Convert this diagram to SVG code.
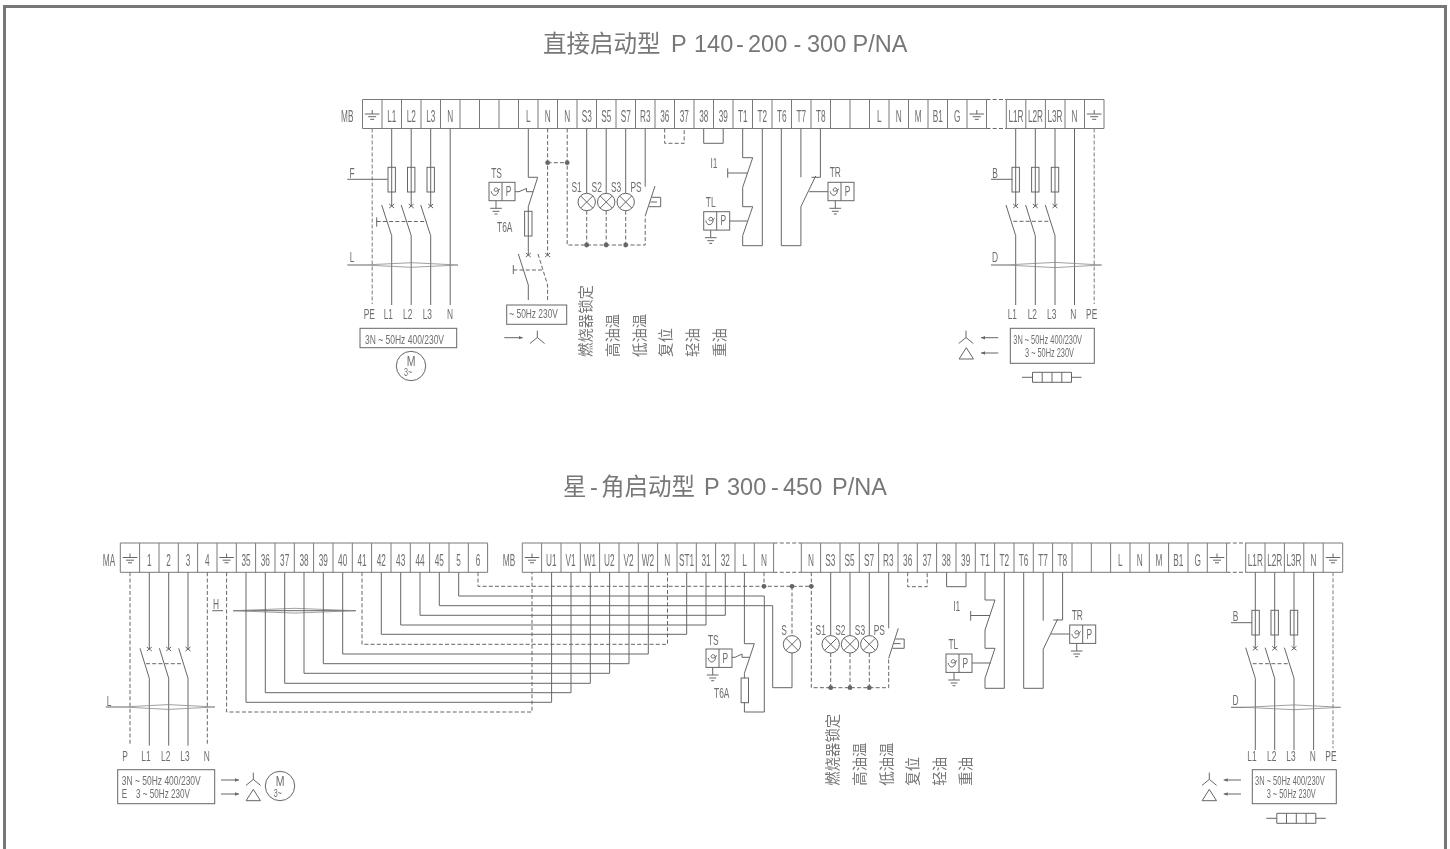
<svg xmlns="http://www.w3.org/2000/svg" width="1450" height="849" viewBox="0 0 1450 849" style="will-change:transform">
<style>
text{font-family:"Liberation Sans","Noto Sans CJK SC",sans-serif;fill:#6e6e6e}
.title{font-size:23.5px;fill:#777}
.t16{font-size:16.5px;text-anchor:middle}
.t13{font-size:14px;text-anchor:middle}
.t12{font-size:12.5px}
.v{font-family:"Noto Sans CJK SC",sans-serif;font-size:14.4px;fill:#777}
.ln{fill:none;stroke:#666;stroke-width:1}
.lt{fill:none;stroke:#7a7a7a;stroke-width:1}
.d{fill:none;stroke:#666;stroke-width:1;stroke-dasharray:4 2.2}
.dl{fill:none;stroke:#888;stroke-width:1.1;stroke-dasharray:4 2}
.lens{fill:none;stroke:#888;stroke-width:.8}
.dot{fill:#666}
</style>
<defs>
<marker id="ah" markerUnits="userSpaceOnUse" markerWidth="5" markerHeight="5" refX="4" refY="2.5" orient="auto"><path d="M0 .7L4 2.5L0 4.3z" fill="#666"/></marker>
<g id="gs"><path class="ln" d="M0 10.5V14.5M-7.3 14.5H7.3M-4 17.2H4M-2 19.8H2"/></g>
<g id="gd"><path class="ln" d="M0 0V7.6M-5.8 7.6H5.8M-3.4 10.6H3.4M-1.5 13.3H1.5"/></g>
<rect id="fuse" class="ln" x="-3.7" y="0" width="7.4" height="24.7"/>
<g id="lamp"><circle class="ln" r="8.7" fill="none"/><path class="ln" d="M-6.1-6.1L6.1 6.1M-6.1 6.1L6.1-6.1"/></g>
<path id="xm" class="ln" d="M-2.5-2L2.5 2M-2.5 2L2.5-2"/>
<circle id="dot" class="dot" r="2.4"/>
<g id="sens"><rect class="ln" width="26" height="18.4"/><path class="ln" d="M13 0V18.4M2.2 9C3 13.5 7 14.5 9 10.5C10.5 7 7.5 4 5.5 6.5C4 9 7 10.5 11 6.5"/></g>
<path id="star" class="ln" d="M0 0V-6.8M0 0L-7.3 6M0 0L7.3 6"/>
<path id="tri" class="ln" d="M0 0L-7.2 11.3H7.2z"/>
<g id="res"><path class="ln" d="M-19.5-5H19.5V5H-19.5zM-9.8-5V5M0-5V5M9.8-5V5M-30 0H-19.5M19.5 0H29.5"/></g>
</defs>
<rect x="4.5" y="6.5" width="1441" height="860" fill="#fff" stroke="#777" stroke-width="3"/>
<g id="titles">
<text class="title" x="543" y="52.3">直接启动型<tspan x="671">P</tspan><tspan x="694">140</tspan><tspan x="736">-</tspan><tspan x="748">200</tspan><tspan x="793.5">-</tspan><tspan x="807">300</tspan><tspan x="852.5">P/NA</tspan></text>
<text class="title" x="563" y="495">星<tspan x="590">-</tspan><tspan x="601">角启动型</tspan><tspan x="704">P</tspan><tspan x="727">300</tspan><tspan x="771">-</tspan><tspan x="783">450</tspan><tspan x="832">P/NA</tspan></text>
</g>

<g id="strip-top-MB">
<path class="lt" d="M362.5 99.5H986.5V128.5H362.5zM1006.3 99.5H1104V128.5H1006.3z"/>
<path class="lt" d="M382 99.5V128.5M401.5 99.5V128.5M421 99.5V128.5M440.5 99.5V128.5M460 99.5V128.5M479.5 99.5V128.5M499 99.5V128.5M518.5 99.5V128.5M538 99.5V128.5M557.5 99.5V128.5M577 99.5V128.5M596.5 99.5V128.5M616 99.5V128.5M635.5 99.5V128.5M655 99.5V128.5M674.5 99.5V128.5M694 99.5V128.5M713.5 99.5V128.5M733 99.5V128.5M752.5 99.5V128.5M772 99.5V128.5M791.5 99.5V128.5M811 99.5V128.5M830.5 99.5V128.5M850 99.5V128.5M869.5 99.5V128.5M889 99.5V128.5M908.5 99.5V128.5M928 99.5V128.5M947.5 99.5V128.5M967 99.5V128.5M1025.8 99.5V128.5M1045.4 99.5V128.5M1065 99.5V128.5M1084.5 99.5V128.5"/>
<path class="d" d="M986.5 99.5H1006.3M986.5 128.5H1006.3"/>
<use href="#gs" x="372.2" y="99.5"/><use href="#gs" x="976.8" y="99.5"/><use href="#gs" x="1094.2" y="99.5"/>
<g transform="translate(0 121.7) scale(.5 1)">
<text class="t16" x="694.6">MB</text><text class="t16" x="783.5">L1</text><text class="t16" x="822.5">L2</text><text class="t16" x="861.5">L3</text><text class="t16" x="900.5">N</text><text class="t16" x="1056.5">L</text><text class="t16" x="1095.5">N</text><text class="t16" x="1134.5">N</text><text class="t16" x="1173.5">S3</text><text class="t16" x="1212.5">S5</text><text class="t16" x="1251.5">S7</text><text class="t16" x="1290.5">R3</text><text class="t16" x="1329.5">36</text><text class="t16" x="1368.5">37</text><text class="t16" x="1407.5">38</text><text class="t16" x="1446.5">39</text><text class="t16" x="1485.5">T1</text><text class="t16" x="1524.5">T2</text><text class="t16" x="1563.5">T6</text><text class="t16" x="1602.5">T7</text><text class="t16" x="1641.5">T8</text><text class="t16" x="1758.5">L</text><text class="t16" x="1797.5">N</text><text class="t16" x="1836.5">M</text><text class="t16" x="1875.5">B1</text><text class="t16" x="1914.5">G</text><text class="t16" x="2032">L1R</text><text class="t16" x="2071">L2R</text><text class="t16" x="2110">L3R</text><text class="t16" x="2149">N</text>
</g>
</g>

<g id="strip-MA">
<path class="lt" d="M120.3 543H487.6V572.3H120.3z"/>
<path class="lt" d="M139.6 543V572.3M159 543V572.3M178.3 543V572.3M197.6 543V572.3M217 543V572.3M236.3 543V572.3M255.6 543V572.3M275 543V572.3M294.3 543V572.3M313.6 543V572.3M333 543V572.3M352.3 543V572.3M371.6 543V572.3M391 543V572.3M410.3 543V572.3M429.6 543V572.3M449 543V572.3M468.3 543V572.3"/>
<use href="#gs" x="130" y="543"/><use href="#gs" x="226.6" y="543"/>
<g transform="translate(0 565.6) scale(.5 1)">
<text class="t16" x="218">MA</text><text class="t16" x="298.6">1</text><text class="t16" x="337.3">2</text><text class="t16" x="376">3</text><text class="t16" x="414.6">4</text><text class="t16" x="492">35</text><text class="t16" x="530.6">36</text><text class="t16" x="569.3">37</text><text class="t16" x="608">38</text><text class="t16" x="646.6">39</text><text class="t16" x="685.3">40</text><text class="t16" x="724">41</text><text class="t16" x="762.6">42</text><text class="t16" x="801.3">43</text><text class="t16" x="840">44</text><text class="t16" x="878.6">45</text><text class="t16" x="917.3">5</text><text class="t16" x="956">6</text>
</g>
</g>

<g id="strip-low-MB">
<path class="lt" d="M522.3 543H773.6V572.3H522.3zM801.3 543H1226.6V572.3H801.3zM1245.7 543H1342.7V572.3H1245.7z"/>
<path class="lt" d="M541.6 543V572.3M561 543V572.3M580.3 543V572.3M599.6 543V572.3M619 543V572.3M638.3 543V572.3M657.6 543V572.3M677 543V572.3M696.3 543V572.3M715.6 543V572.3M735 543V572.3M754.3 543V572.3M820.6 543V572.3M840 543V572.3M859.3 543V572.3M878.6 543V572.3M898 543V572.3M917.3 543V572.3M936.6 543V572.3M956 543V572.3M975.3 543V572.3M994.6 543V572.3M1014 543V572.3M1033.3 543V572.3M1052.6 543V572.3M1072 543V572.3M1091.3 543V572.3M1110.6 543V572.3M1130 543V572.3M1149.3 543V572.3M1168.6 543V572.3M1188 543V572.3M1207.3 543V572.3M1265 543V572.3M1284.4 543V572.3M1303.8 543V572.3M1323.2 543V572.3"/>
<path class="d" d="M773.6 543H801.3M773.6 572.3H801.3M1226.6 543H1245.7M1226.6 572.3H1245.7"/>
<use href="#gs" x="532" y="543"/><use href="#gs" x="1217" y="543"/><use href="#gs" x="1333" y="543"/>
<g transform="translate(0 565.6) scale(.5 1)">
<text class="t16" x="1018">MB</text><text class="t16" x="1102.6">U1</text><text class="t16" x="1141.3">V1</text><text class="t16" x="1180">W1</text><text class="t16" x="1218.6">U2</text><text class="t16" x="1257.3">V2</text><text class="t16" x="1296">W2</text><text class="t16" x="1334.6">N</text><text class="t16" x="1373.3">ST1</text><text class="t16" x="1412">31</text><text class="t16" x="1450.6">32</text><text class="t16" x="1489.3">L</text><text class="t16" x="1528">N</text><text class="t16" x="1622">N</text><text class="t16" x="1660.6">S3</text><text class="t16" x="1699.3">S5</text><text class="t16" x="1738">S7</text><text class="t16" x="1776.6">R3</text><text class="t16" x="1815.3">36</text><text class="t16" x="1854">37</text><text class="t16" x="1892.6">38</text><text class="t16" x="1931.3">39</text><text class="t16" x="1970">T1</text><text class="t16" x="2008.6">T2</text><text class="t16" x="2047.3">T6</text><text class="t16" x="2086">T7</text><text class="t16" x="2124.6">T8</text><text class="t16" x="2240.6">L</text><text class="t16" x="2279.3">N</text><text class="t16" x="2318">M</text><text class="t16" x="2356.6">B1</text><text class="t16" x="2395.3">G</text><text class="t16" x="2510.6">L1R</text><text class="t16" x="2549.4">L2R</text><text class="t16" x="2588">L3R</text><text class="t16" x="2627">N</text>
</g>
</g>

<g id="connectors">
<path class="dl" d="M372.2 128.5V304"/>
<path class="ln" d="M391.7 128.5V206M381.7 205L391.7 235.7V305M411.2 128.5V206M401.2 205L411.2 235.7V305M430.7 128.5V206M420.7 205L430.7 235.7V305M450.2 128.5V305M347.3 179.3H387.7M347.3 265H364M376.7 217.3V226.7"/>
<path class="d" d="M376.7 221.5H426.7"/>
<path class="lens" d="M364 265L411.5 262.7L458 265L411.5 267.3z"/>
<path class="ln" d="M528.3 128.5V177.3H537.7L528.3 206.7V255M518.3 254L528.3 285V300M513.3 265V274"/>
<path class="d" d="M547.6 128.5V255M538 254L547.6 285V300M513.3 270H543.5M547.6 162.7H567.2M567.2 128.5V245H645.2V216"/>
<path class="ln" d="M515 191.7H519L526.5 188.4V191.7H533"/>
<path class="ln" d="M586.7 128.5V193.3M606.2 128.5V193.3M625.7 128.5V193.3M645.2 128.5V186.7M655 186L645.2 216M652 197.3H660.7V206.7H649M650.5 202H657"/>
<path class="d" d="M586.7 210.7V245M606.2 210.7V245M625.7 210.7V245M664.7 128.5V143.3H684.2V128.5"/>
<path class="ln" d="M703.7 128.5V143.3H723.2V128.5"/>
<path class="ln" d="M742.7 128.5V157.7H752.7L742.7 187.3V206.7H752.7L742.7 235.7V245.7H762.3V128.5M727.7 168.3V177.7M727.7 173H747.7M729.7 221H747.5"/>
<path class="ln" d="M781.3 128.5V245.7H800.9V206.7L815.7 176M800.9 128.5V177.3M820.4 128.5V177.3H811.5M828 191.7H809.3"/>
<path class="ln" d="M1015.7 128.5V206M1006 205L1015.7 235.7V305M1035.3 128.5V206M1025.6 205L1035.3 235.7V305M1055 128.5V206M1045.3 205L1055 235.7V305M1074.5 128.5V305M991 179.3H1012.3M991 265H1005"/>
<path class="d" d="M1013.3 221.3H1050.7"/>
<path class="dl" d="M1094.2 128.5V304"/>
<path class="lens" d="M1005 265L1055 262.4L1101.7 265L1055 267.6z"/>
<path class="ln" d="M504.3 337.7H522.7" marker-end="url(#ah)"/>
<path class="ln" d="M998.3 337.7H981" marker-end="url(#ah)"/>
<path class="ln" d="M998.3 353H981" marker-end="url(#ah)"/>
<path class="d" d="M130 572.3V745.7M207.3 572.3V745.7"/>
<path class="ln" d="M149.3 572.3V649M140 648.3L149.3 678.3V745.7M168.7 572.3V649M159.4 648.3L168.7 678.3V745.7M188 572.3V649M178.7 648.3L188 678.3V745.7M105.7 707H123"/>
<path class="d" d="M146 663.7H183.3"/>
<path class="lens" d="M123 707L168.3 704.6L215 707L168.3 709.4z"/>
<path class="ln" d="M212.3 610.7H223M233.3 610.7H356"/>
<path class="lens" d="M233.3 610.7L295 608.3L355 610.7L295 613.1z"/>
<path class="ln" d="M221 780H239" marker-end="url(#ah)"/>
<path class="ln" d="M221 794H239" marker-end="url(#ah)"/>
<path class="d" d="M226.6 572.3V712H532V572.3"/>
<path class="ln" d="M246 572.3V702.3H551.6V572.3M265.3 572.3V692.7H571V572.3M284.7 572.3V683.3H590.3V572.3M304 572.3V673.3H609.6V572.3M323.3 572.3V663.7H629V572.3M342.7 572.3V654H648.3V572.3"/>
<path class="d" d="M362 572.3V644.3H667.5V572.3"/>
<path class="ln" d="M381.3 572.3V634.3H686.7V572.3M400.7 572.3V625H706V572.3M420 572.3V615.3H725.3V572.3"/>
<path class="ln" d="M439.3 572.3V605.7H772.7V687.7H792V653M458.7 572.3V596H764.3V712H744.4V702.3"/>
<path class="d" d="M478 572.3V586.3H811.3M764 572.3V586.3M792 586.3V635.6M811.3 572.3V687.7H888.7V658.3"/>
<path class="ln" d="M744.4 572.3V643.7H754.3L744.4 673.3V678.3M731.7 657.3H735L742 654V657.3H749.7"/>
<path class="ln" d="M830.7 572.3V635.6M850 572.3V635.6M869.3 572.3V635.6M888.7 572.3V628.3M898.3 628.3L888.7 658.3M895.4 639H904.2V648.3H892.4M894 643.6H900.5"/>
<path class="d" d="M830.7 653V687.7M850 653V687.7M869.3 653V687.7M907.7 572.3V586.7H927.2V572.3"/>
<path class="ln" d="M946.6 572.3V586.7H966V572.3"/>
<path class="ln" d="M985 572.3V600H995L985 630V648.3H995L985 678.3V688.3H1004.3V572.3M970.7 611V620.7M970.7 615.5H990M972 663H990.7"/>
<path class="ln" d="M1023.7 572.3V688.3H1043.2V649.3L1057.7 619M1043.2 572.3V620.7M1062.6 572.3V620H1053.3M1069.7 634H1051"/>
<path class="ln" d="M1255.3 572.3V648.3M1245.7 647.7L1255.3 678.3V750M1274.7 572.3V648.3M1265.1 647.7L1274.7 678.3V750M1294 572.3V648.3M1284.4 647.7L1294 678.3V750M1313.6 572.3V750M1231 622.7H1252M1231 707.3H1245"/>
<path class="d" d="M1252.7 663.7H1290"/>
<path class="dl" d="M1333 572.3V748.3"/>
<path class="lens" d="M1245 707.3L1294 704.9L1340.7 707.3L1294 709.7z"/>
<path class="ln" d="M1241 780H1223.7" marker-end="url(#ah)"/>
<path class="ln" d="M1241 794H1223.7" marker-end="url(#ah)"/>
</g>

<g id="top-fuses"><use href="#fuse" x="391.7" y="167.3"/><use href="#fuse" x="411.2" y="167.3"/><use href="#fuse" x="430.7" y="167.3"/><use href="#fuse" x="528.3" y="211.3"/><use href="#fuse" x="1015.7" y="167.3"/><use href="#fuse" x="1035.3" y="167.3"/><use href="#fuse" x="1055" y="167.3"/></g>
<g id="top-x"><use href="#xm" x="391.7" y="206"/><use href="#xm" x="411.2" y="206"/><use href="#xm" x="430.7" y="206"/><use href="#xm" x="528.3" y="255"/><use href="#xm" x="547.6" y="255"/><use href="#xm" x="1015.7" y="206"/><use href="#xm" x="1035.3" y="206"/><use href="#xm" x="1055" y="206"/></g>
<g id="top-dots"><use href="#dot" x="547.6" y="162.7"/><use href="#dot" x="567.2" y="162.7"/><use href="#dot" x="586.7" y="245"/><use href="#dot" x="606.2" y="245"/><use href="#dot" x="625.7" y="245"/></g>
<g id="top-lamps"><use href="#lamp" x="586.7" y="202"/><use href="#lamp" x="606.2" y="202"/><use href="#lamp" x="625.7" y="202"/>
<g transform="translate(0 192.3) scale(.6 1)"><text class="t13" x="961">S1</text><text class="t13" x="994.5">S2</text><text class="t13" x="1026.7">S3</text><text class="t13" x="1060">PS</text></g></g>

<g id="node-TS-top"><use href="#sens" x="489" y="182.3"/><use href="#gd" x="496" y="200.7"/>
<text class="t13" transform="matrix(.6 0 0 1 508.5 196)">P</text><text class="t13" transform="matrix(.6 0 0 1 496.5 177.7)">TS</text></g>
<g id="node-TL-top"><use href="#sens" x="703.7" y="211.7"/><use href="#gd" x="710.7" y="230.1"/>
<text class="t13" transform="matrix(.6 0 0 1 723.2 225.4)">P</text><text class="t13" transform="matrix(.6 0 0 1 710.7 206.7)">TL</text></g>
<g id="node-TR-top"><use href="#sens" x="828" y="182.3"/><use href="#gd" x="835.3" y="200.7"/>
<text class="t13" transform="matrix(.6 0 0 1 847.5 196)">P</text><text class="t13" transform="matrix(.6 0 0 1 835.3 176.7)">TR</text></g>

<g id="top-labels">
<g transform="translate(0 319.3) scale(.6 1)"><text class="t13" x="615.5">PE</text><text class="t13" x="647.2">L1</text><text class="t13" x="679.5">L2</text><text class="t13" x="712.2">L3</text><text class="t13" x="750">N</text><text class="t13" x="1687.2">L1</text><text class="t13" x="1720.5">L2</text><text class="t13" x="1752.8">L3</text><text class="t13" x="1789">N</text><text class="t13" x="1819.5">PE</text></g>
<text class="t13" transform="matrix(.6 0 0 1 352 177.7)">F</text><text class="t13" transform="matrix(.6 0 0 1 352 262.3)">L</text><text class="t13" transform="matrix(.6 0 0 1 995 177.7)">B</text><text class="t13" transform="matrix(.6 0 0 1 995 262.3)">D</text>
<text class="t13" transform="matrix(.6 0 0 1 504.7 231.7)">T6A</text><text class="t13" transform="matrix(.6 0 0 1 714 167.7)">I1</text>
</g>
<g id="box-top-main"><rect class="ln" x="360" y="328.3" width="96.7" height="19.4"/><text class="t12" transform="matrix(.68 0 0 1 365 343.5)">3N ~ 50Hz 400/230V</text></g>
<g id="motor-top"><circle class="ln" cx="411" cy="366" r="14.7"/><text class="t13" transform="matrix(.75 0 0 1 411 365.5)">M</text><text class="t13" transform="matrix(.65 0 0 1 408 376)" style="font-size:11px">3~</text></g>
<g id="box-top-mid"><rect class="ln" x="506.7" y="305" width="60" height="19.3"/><text class="t12" transform="matrix(.67 0 0 1 509.3 318)">~ 50Hz 230V</text></g>
<use href="#star" x="537.3" y="337.5"/>
<g id="box-top-right"><rect class="ln" x="1010.3" y="328.3" width="84" height="35"/><text class="t12" transform="matrix(.59 0 0 1 1013.3 344)">3N ~ 50Hz 400/230V</text><text class="t12" transform="matrix(.59 0 0 1 1025 357.3)">3 ~ 50Hz 230V</text></g>
<use href="#star" x="966" y="337.5"/><use href="#tri" x="966.3" y="347.7"/><use href="#res" x="1052" y="377.3"/>
<g id="top-vertical">
<text class="v" transform="rotate(-90 590.5 357)" x="590.5" y="357">燃烧器锁定</text>
<text class="v" transform="rotate(-90 617.5 357)" x="617.5" y="357">高油温</text>
<text class="v" transform="rotate(-90 644.5 357)" x="644.5" y="357">低油温</text>
<text class="v" transform="rotate(-90 671 357)" x="671" y="357">复位</text>
<text class="v" transform="rotate(-90 698 357)" x="698" y="357">轻油</text>
<text class="v" transform="rotate(-90 724.5 357)" x="724.5" y="357">重油</text>
</g>

<g id="low-fuses"><use href="#fuse" x="744.8" y="678"/><use href="#fuse" x="1255.6" y="610.3"/><use href="#fuse" x="1274.7" y="610.3"/><use href="#fuse" x="1294" y="610.3"/></g>
<g id="low-x"><use href="#xm" x="149.3" y="649"/><use href="#xm" x="168.7" y="649"/><use href="#xm" x="188" y="649"/><use href="#xm" x="1255.3" y="648.3"/><use href="#xm" x="1274.7" y="648.3"/><use href="#xm" x="1294" y="648.3"/></g>
<g id="low-dots"><use href="#dot" x="764" y="586.3"/><use href="#dot" x="792" y="586.3"/><use href="#dot" x="811.3" y="586.3"/><use href="#dot" x="830.7" y="687.7"/><use href="#dot" x="850" y="687.7"/><use href="#dot" x="869.3" y="687.7"/></g>
<g id="low-lamps"><use href="#lamp" x="792" y="644.3"/><use href="#lamp" x="830.7" y="644.3"/><use href="#lamp" x="850" y="644.3"/><use href="#lamp" x="869.3" y="644.3"/>
<g transform="translate(0 635) scale(.6 1)"><text class="t13" x="1306.7">S</text><text class="t13" x="1367.8">S1</text><text class="t13" x="1400.5">S2</text><text class="t13" x="1433.3">S3</text><text class="t13" x="1465.5">PS</text></g></g>
<g id="node-TS-low"><use href="#sens" x="706" y="649"/><use href="#gd" x="712.7" y="667.4"/>
<text class="t13" transform="matrix(.6 0 0 1 725.3 662.7)">P</text><text class="t13" transform="matrix(.6 0 0 1 713.3 645)">TS</text></g>
<g id="node-TL-low"><use href="#sens" x="946" y="654"/><use href="#gd" x="954" y="672.4"/>
<text class="t13" transform="matrix(.6 0 0 1 965.4 667.7)">P</text><text class="t13" transform="matrix(.6 0 0 1 953.3 649.3)">TL</text></g>
<g id="node-TR-low"><use href="#sens" x="1069.7" y="625"/><use href="#gd" x="1076.7" y="643.4"/>
<text class="t13" transform="matrix(.6 0 0 1 1089.2 638.7)">P</text><text class="t13" transform="matrix(.6 0 0 1 1077.3 620)">TR</text></g>
<g id="low-labels">
<g transform="translate(0 760.7) scale(.6 1)"><text class="t13" x="208.3">P</text><text class="t13" x="243.3">L1</text><text class="t13" x="276.2">L2</text><text class="t13" x="308.3">L3</text><text class="t13" x="344.5">N</text><text class="t13" x="2086.7">L1</text><text class="t13" x="2119.5">L2</text><text class="t13" x="2151.7">L3</text><text class="t13" x="2187.8">N</text><text class="t13" x="2218.3">PE</text></g>
<text class="t13" transform="matrix(.6 0 0 1 109 705.7)">L</text><text class="t13" transform="matrix(.6 0 0 1 216 609)">H</text><text class="t13" transform="matrix(.6 0 0 1 1235.5 620.7)">B</text><text class="t13" transform="matrix(.6 0 0 1 1235.5 705)">D</text>
<text class="t13" transform="matrix(.6 0 0 1 721.7 698.3)">T6A</text><text class="t13" transform="matrix(.6 0 0 1 956.7 610.7)">I1</text>
</g>
<g id="box-low-left"><rect class="ln" x="117.7" y="769.7" width="97" height="34"/><text class="t12" transform="matrix(.68 0 0 1 121.7 785)">3N ~ 50Hz 400/230V</text><text class="t12" transform="matrix(.65 0 0 1 121.7 798.3)">E</text><text class="t12" transform="matrix(.65 0 0 1 136 798.3)">3 ~ 50Hz 230V</text></g>
<use href="#star" x="253.3" y="779.4"/><use href="#tri" x="253.3" y="789.4"/>
<g id="motor-low"><circle class="ln" cx="280" cy="786" r="14.7"/><text class="t13" transform="matrix(.75 0 0 1 280 785.5)">M</text><text class="t13" transform="matrix(.65 0 0 1 277.7 796.7)" style="font-size:11px">3~</text></g>
<g id="box-low-right"><rect class="ln" x="1252.3" y="769.7" width="84" height="34"/><text class="t12" transform="matrix(.6 0 0 1 1255 785)">3N ~ 50Hz 400/230V</text><text class="t12" transform="matrix(.59 0 0 1 1266.7 798.3)">3 ~ 50Hz 230V</text></g>
<use href="#star" x="1209.3" y="779.4"/><use href="#tri" x="1209.3" y="789.4"/><use href="#res" x="1296.3" y="818.3"/>
<g id="low-vertical">
<text class="v" transform="rotate(-90 838.5 785.7)" x="838.5" y="785.7">燃烧器锁定</text>
<text class="v" transform="rotate(-90 865.2 785.7)" x="865.2" y="785.7">高油温</text>
<text class="v" transform="rotate(-90 891.8 785.7)" x="891.8" y="785.7">低油温</text>
<text class="v" transform="rotate(-90 918 785.7)" x="918" y="785.7">复位</text>
<text class="v" transform="rotate(-90 944.6 785.7)" x="944.6" y="785.7">轻油</text>
<text class="v" transform="rotate(-90 971 785.7)" x="971" y="785.7">重油</text>
</g>
</svg>
